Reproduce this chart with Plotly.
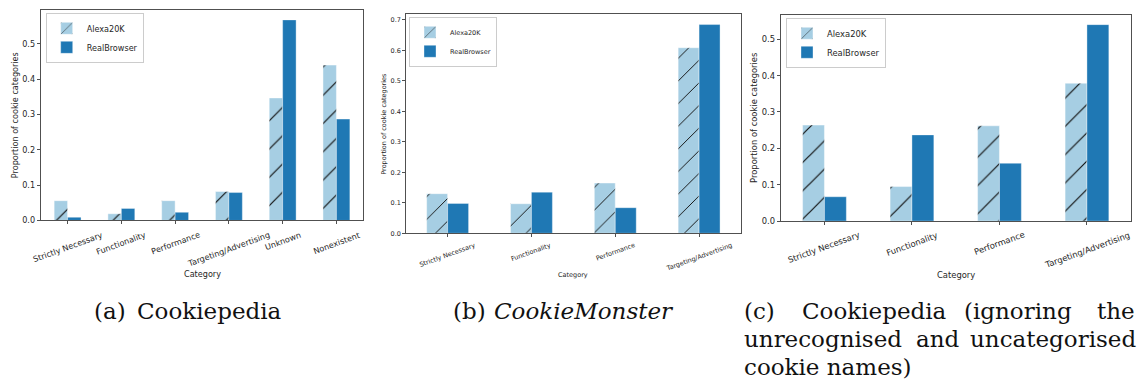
import plotly.graph_objects as go

# ---- data -------------------------------------------------------------
series_names = ["Alexa20K", "RealBrowser"]

categories_a = ["Strictly Necessary", "Functionality", "Performance",
                "Targeting/Advertising", "Unknown", "Nonexistent"]
alexa_a = [0.056, 0.019, 0.056, 0.082, 0.347, 0.440]
real_a = [0.009, 0.034, 0.023, 0.079, 0.568, 0.287]

categories_b = ["Strictly Necessary", "Functionality", "Performance",
                "Targeting/Advertising"]
alexa_b = [0.130, 0.097, 0.165, 0.609]
real_b = [0.098, 0.135, 0.084, 0.685]

categories_c = ["Strictly Necessary", "Functionality", "Performance",
                "Targeting/Advertising"]
alexa_c = [0.264, 0.095, 0.262, 0.379]
real_c = [0.067, 0.237, 0.159, 0.540]

y_ticks_a = [0.0, 0.1, 0.2, 0.3, 0.4, 0.5]
y_ticks_b = [0.0, 0.1, 0.2, 0.3, 0.4, 0.5, 0.6, 0.7]
y_ticks_c = [0.0, 0.1, 0.2, 0.3, 0.4, 0.5]

x_title = "Category"
y_title = "Proportion of cookie categories"

# ---- styling ----------------------------------------------------------
W, H = 1141, 392
LIGHT = "#a6cee3"
DARK = "#1f78b4"
INK = "#262626"
SPINE = "#505050"
SANS = "DejaVu Sans"
SERIF = "DejaVu Serif"

# panel boxes in pixels: left, right, top, bottom
panels = [
    dict(cats=categories_a, alexa=alexa_a, real=real_a, ticks=y_ticks_a,
         box=(40.7, 363.3, 10.0, 223.3), font=8.1, ticklen=3, hatch=20,
         lab_gap=6.5, title_gap=54, ytitle_x=15, legend=(45.7, 13)),
    dict(cats=categories_b, alexa=alexa_b, real=real_b, ticks=y_ticks_b,
         box=(405.7, 741.0, 14.3, 236.3), font=6.5, ticklen=2.5, hatch=16,
         lab_gap=5.4, title_gap=42, ytitle_x=384, legend=(409, 17)),
    dict(cats=categories_c, alexa=alexa_c, real=real_c, ticks=y_ticks_c,
         box=(780.7, 1130.7, 15.0, 224.0), font=8.4, ticklen=3, hatch=20,
         lab_gap=6.0, title_gap=54, ytitle_x=754, legend=(786, 18)),
]

fig = go.Figure()
layout = dict(
    width=W, height=H, margin=dict(l=0, r=0, t=0, b=0),
    paper_bgcolor="white", plot_bgcolor="white",
    barmode="group", bargap=0.5, bargroupgap=0.0,
    font=dict(family=SANS, color=INK),
    annotations=[],
)

for i, p in enumerate(panels, start=1):
    sfx = "" if i == 1 else str(i)
    xa, ya = "x" + sfx, "y" + sfx
    leg = "legend" + sfx
    l, r, t, b = p["box"]
    n = len(p["cats"])
    ymax = max(max(p["alexa"]), max(p["real"])) * 1.05

    fig.add_trace(go.Bar(
        x=p["cats"], y=p["alexa"], name=series_names[0],
        xaxis=xa, yaxis=ya, legend=leg,
        marker=dict(color=LIGHT,
                    line=dict(color="rgba(255,255,255,0.55)", width=0.8),
                    pattern=dict(shape="/", fgcolor="#111111", bgcolor=LIGHT,
                                 size=p["hatch"], solidity=0.06,
                                 fgopacity=1)),
    ))
    fig.add_trace(go.Bar(
        x=p["cats"], y=p["real"], name=series_names[1],
        xaxis=xa, yaxis=ya, legend=leg,
        marker=dict(color=DARK,
                    line=dict(color="rgba(255,255,255,0.45)", width=0.8)),
    ))

    axis_common = dict(showline=True, mirror=True, linecolor=SPINE,
                       linewidth=1, showgrid=False, zeroline=False,
                       ticks="outside", ticklen=p["ticklen"], tickwidth=1,
                       tickcolor=SPINE)
    layout["xaxis" + sfx] = dict(
        axis_common, domain=[l / W, r / W], anchor=ya,
        type="category", range=[-0.5, n - 0.5], showticklabels=False,
    )
    layout["yaxis" + sfx] = dict(
        axis_common, domain=[1 - b / H, 1 - t / H], anchor=xa,
        range=[0, ymax], tickvals=p["ticks"], tickformat=".1f",
        tickfont=dict(family=SANS, size=p["font"], color=INK),
    )
    layout[leg] = dict(
        x=p["legend"][0] / W, y=1 - p["legend"][1] / H,
        xanchor="left", yanchor="top",
        bgcolor="rgba(255,255,255,0.8)", bordercolor="#cccccc",
        borderwidth=1, font=dict(family=SANS, size=p["font"], color=INK),
        tracegroupgap=0, itemwidth=30,
    )

    # rotated category labels centred under each tick
    for c in p["cats"]:
        layout["annotations"].append(dict(
            x=c, y=0, xref=xa, yref=ya + " domain", text=c,
            textangle=-20, showarrow=False, xanchor="center", yanchor="top",
            yshift=-p["lab_gap"],
            font=dict(family=SANS, size=p["font"], color=INK),
        ))
    # axis titles
    layout["annotations"].append(dict(
        x=0.5, y=0, xref=xa + " domain", yref=ya + " domain", text=x_title,
        showarrow=False, xanchor="center", yanchor="middle",
        yshift=-p["title_gap"],
        font=dict(family=SANS, size=p["font"], color=INK),
    ))
    layout["annotations"].append(dict(
        x=p["ytitle_x"] / W, y=1 - ((t + b) / 2) / H, xref="paper",
        yref="paper", text=y_title, textangle=-90, showarrow=False,
        xanchor="center", yanchor="middle",
        font=dict(family=SANS, size=p["font"], color=INK),
    ))

# sub-figure captions (words placed individually for justified lines)
captions = [
    ("(a)", 91.7, 315, "left"), ("Cookiepedia", 209, 315, "center"),
    ("(b)", 451, 315, "left"), ("<i>CookieMonster</i>", 583.5, 315, "center"),
    ("(c)", 742, 315, "left"), ("Cookiepedia", 874, 315, "center"),
    ("(ignoring", 1018, 315, "center"), ("the", 1137, 315, "right"),
    ("unrecognised", 742, 343.5, "left"), ("and", 938, 343.5, "center"),
    ("uncategorised", 1138, 343.5, "right"),
    ("cookie names)", 742, 372, "left"),
]
for text, px, py, anchor in captions:
    layout["annotations"].append(dict(
        x=px / W, y=1 - py / H, xref="paper", yref="paper", text=text,
        showarrow=False, xanchor=anchor, yanchor="middle",
        font=dict(family=SERIF, size=23, color="#111111"),
    ))

fig.update_layout(**layout)
fig.write_html("out.html")
